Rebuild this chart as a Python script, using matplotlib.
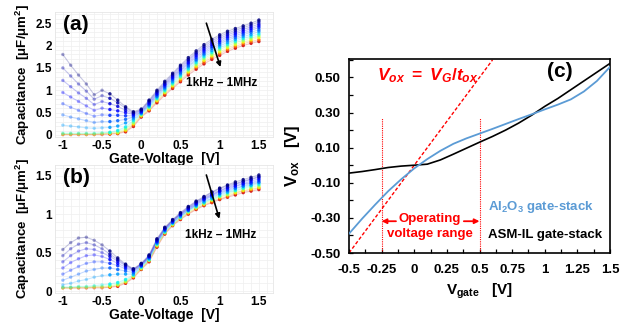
import matplotlib
matplotlib.use('Agg')
import matplotlib.pyplot as plt
import numpy as np

plt.rcParams['font.family'] = ['Liberation Sans', 'DejaVu Sans']
plt.rcParams['font.weight'] = 'bold'
plt.rcParams['axes.unicode_minus'] = False
plt.rcParams['mathtext.fontset'] = 'custom'
plt.rcParams['mathtext.rm'] = 'Liberation Sans:bold'
plt.rcParams['mathtext.bf'] = 'Liberation Sans:bold'
plt.rcParams['mathtext.it'] = 'Liberation Sans:italic:bold'
plt.rcParams['mathtext.default'] = 'rm'

# ---------------- data: panels (a) and (b) ----------------
gate_v = [-1.0, -0.9, -0.8, -0.7, -0.6, -0.5, -0.4, -0.3, -0.2, -0.1,
          0.0, 0.1, 0.2, 0.3, 0.4, 0.5, 0.6, 0.7, 0.8, 0.9,
          1.0, 1.1, 1.2, 1.3, 1.4, 1.5]

# capacitance curves, lowest frequency (1 kHz) first, highest (1 MHz) last
cap_a_f01 = [1.80,1.56,1.34,1.14,0.90,1.00,0.92,0.78,0.63,0.52,0.58,0.78,1.00,1.20,1.38,1.56,1.73,1.88,2.02,2.14,2.24,2.32,2.38,2.44,2.50,2.57]
cap_a_f02 = [1.50,1.32,1.14,0.98,0.80,0.88,0.82,0.72,0.60,0.50,0.56,0.76,0.97,1.17,1.35,1.53,1.69,1.84,1.98,2.10,2.20,2.28,2.34,2.40,2.46,2.53]
cap_a_f03 = [1.22,1.08,0.94,0.82,0.68,0.75,0.70,0.64,0.55,0.48,0.55,0.74,0.95,1.14,1.32,1.49,1.66,1.81,1.94,2.06,2.16,2.24,2.30,2.36,2.42,2.48]
cap_a_f04 = [0.95,0.85,0.75,0.65,0.55,0.60,0.57,0.54,0.50,0.46,0.53,0.71,0.92,1.12,1.29,1.46,1.62,1.77,1.90,2.02,2.11,2.20,2.26,2.32,2.38,2.44]
cap_a_f05 = [0.70,0.62,0.55,0.48,0.42,0.45,0.44,0.44,0.43,0.43,0.51,0.69,0.90,1.09,1.26,1.43,1.59,1.73,1.86,1.98,2.07,2.16,2.22,2.28,2.34,2.40]
cap_a_f06 = [0.45,0.40,0.36,0.32,0.28,0.30,0.30,0.32,0.35,0.40,0.50,0.67,0.87,1.06,1.23,1.39,1.55,1.69,1.82,1.94,2.03,2.12,2.18,2.24,2.30,2.35]
cap_a_f07 = [0.22,0.20,0.18,0.16,0.15,0.16,0.17,0.20,0.27,0.36,0.48,0.65,0.85,1.03,1.19,1.36,1.52,1.66,1.79,1.89,1.99,2.07,2.14,2.20,2.25,2.31]
cap_a_f08 = [0.04,0.04,0.04,0.04,0.04,0.05,0.06,0.10,0.18,0.32,0.47,0.63,0.82,1.00,1.16,1.32,1.48,1.62,1.75,1.85,1.95,2.03,2.10,2.16,2.21,2.26]
cap_a_f09 = [0.03,0.03,0.03,0.03,0.03,0.04,0.05,0.07,0.14,0.28,0.45,0.61,0.80,0.97,1.13,1.29,1.45,1.58,1.71,1.81,1.91,1.99,2.06,2.12,2.17,2.22]
cap_a_f10 = [0.02,0.02,0.02,0.02,0.02,0.03,0.04,0.05,0.11,0.25,0.43,0.58,0.77,0.95,1.10,1.26,1.41,1.54,1.67,1.77,1.86,1.95,2.02,2.08,2.13,2.18]
cap_a_f11 = [0.01,0.01,0.01,0.01,0.01,0.02,0.03,0.04,0.09,0.22,0.42,0.56,0.75,0.92,1.07,1.22,1.38,1.51,1.63,1.73,1.82,1.91,1.98,2.04,2.09,2.13]
cap_a_f12 = [0.01,0.01,0.01,0.01,0.01,0.01,0.02,0.03,0.07,0.19,0.40,0.54,0.72,0.89,1.04,1.19,1.34,1.47,1.59,1.69,1.78,1.87,1.94,2.00,2.05,2.09]

cap_b_f01 = [0.54,0.63,0.69,0.70,0.66,0.60,0.52,0.43,0.35,0.29,0.36,0.47,0.68,0.83,0.93,1.02,1.10,1.17,1.23,1.29,1.34,1.38,1.42,1.45,1.48,1.51]
cap_b_f02 = [0.46,0.55,0.61,0.63,0.60,0.55,0.48,0.41,0.34,0.28,0.35,0.46,0.67,0.82,0.92,1.01,1.09,1.16,1.22,1.28,1.33,1.37,1.40,1.43,1.46,1.49]
cap_b_f03 = [0.38,0.46,0.52,0.55,0.54,0.50,0.45,0.39,0.33,0.28,0.35,0.45,0.66,0.81,0.92,1.00,1.08,1.15,1.21,1.26,1.31,1.35,1.39,1.42,1.45,1.48]
cap_b_f04 = [0.30,0.37,0.42,0.46,0.47,0.45,0.41,0.36,0.31,0.27,0.34,0.45,0.65,0.81,0.91,1.00,1.07,1.14,1.20,1.25,1.30,1.34,1.37,1.40,1.43,1.46]
cap_b_f05 = [0.22,0.27,0.32,0.36,0.38,0.38,0.36,0.33,0.29,0.26,0.33,0.44,0.64,0.80,0.90,0.99,1.06,1.13,1.19,1.24,1.29,1.32,1.36,1.39,1.41,1.44]
cap_b_f06 = [0.14,0.18,0.22,0.26,0.28,0.30,0.30,0.28,0.26,0.24,0.33,0.43,0.63,0.79,0.89,0.98,1.05,1.12,1.18,1.23,1.27,1.31,1.34,1.37,1.40,1.42]
cap_b_f07 = [0.08,0.10,0.13,0.15,0.18,0.20,0.21,0.22,0.22,0.22,0.32,0.42,0.62,0.78,0.89,0.97,1.05,1.11,1.16,1.21,1.26,1.29,1.33,1.36,1.38,1.41]
cap_b_f08 = [0.05,0.05,0.06,0.06,0.07,0.08,0.09,0.11,0.15,0.21,0.31,0.41,0.61,0.77,0.88,0.96,1.04,1.10,1.15,1.20,1.24,1.28,1.31,1.34,1.37,1.39]
cap_b_f09 = [0.05,0.05,0.05,0.05,0.06,0.06,0.07,0.09,0.13,0.20,0.30,0.40,0.60,0.76,0.87,0.95,1.03,1.09,1.14,1.19,1.23,1.26,1.30,1.33,1.35,1.37]
cap_b_f10 = [0.04,0.04,0.05,0.05,0.05,0.05,0.06,0.08,0.12,0.19,0.29,0.40,0.59,0.76,0.86,0.95,1.02,1.08,1.13,1.18,1.22,1.25,1.28,1.31,1.33,1.35]
cap_b_f11 = [0.04,0.04,0.04,0.04,0.05,0.05,0.05,0.07,0.11,0.18,0.29,0.39,0.58,0.75,0.86,0.94,1.01,1.07,1.12,1.16,1.20,1.23,1.27,1.30,1.32,1.34]
cap_b_f12 = [0.04,0.04,0.04,0.04,0.04,0.04,0.05,0.06,0.10,0.17,0.28,0.38,0.57,0.74,0.85,0.93,1.00,1.06,1.11,1.15,1.19,1.22,1.25,1.28,1.30,1.32]

curves_a = [cap_a_f01, cap_a_f02, cap_a_f03, cap_a_f04, cap_a_f05, cap_a_f06,
            cap_a_f07, cap_a_f08, cap_a_f09, cap_a_f10, cap_a_f11, cap_a_f12]
curves_b = [cap_b_f01, cap_b_f02, cap_b_f03, cap_b_f04, cap_b_f05, cap_b_f06,
            cap_b_f07, cap_b_f08, cap_b_f09, cap_b_f10, cap_b_f11, cap_b_f12]

ticks_ab_x = [-1, -0.5, 0, 0.5, 1, 1.5]
ticklabels_ab_x = ['-1', '-0.5', '0', '0.5', '1', '1.5']
ticks_a_y = [0, 0.5, 1, 1.5, 2, 2.5]
ticklabels_a_y = ['0', '0.5', '1', '1.5', '2', '2.5']
ticks_b_y = [0, 0.5, 1, 1.5]
ticklabels_b_y = ['0', '0.5', '1', '1.5']

# ---------------- data: panel (c) ----------------
vgate = [-0.5, -0.4, -0.3, -0.2, -0.1, 0.0, 0.1, 0.2, 0.3, 0.4, 0.5,
         0.6, 0.7, 0.8, 0.9, 1.0, 1.1, 1.2, 1.3, 1.4, 1.5]
vox_al2o3 = [-0.390, -0.305, -0.225, -0.148, -0.080, -0.018, 0.035, 0.082, 0.122, 0.153, 0.180,
             0.207, 0.235, 0.263, 0.290, 0.318, 0.345, 0.375, 0.420, 0.480, 0.560]
vox_asmil = [-0.045, -0.036, -0.025, -0.013, -0.005, 0.000, 0.006, 0.030, 0.063, 0.097, 0.131,
             0.164, 0.200, 0.240, 0.285, 0.335, 0.380, 0.430, 0.480, 0.530, 0.580]
ideal_vg = [-0.5, 0.6]
ideal_vox = [-0.5, 0.6]
op_range = [-0.25, 0.5]

ticks_c_x = [-0.5, -0.25, 0, 0.25, 0.5, 0.75, 1, 1.25, 1.5]
ticklabels_c_x = ['-0.5', '-0.25', '0', '0.25', '0.5', '0.75', '1', '1.25', '1.5']
ticks_c_y = [-0.5, -0.3, -0.1, 0.1, 0.3, 0.5]
ticklabels_c_y = ['-0.50', '-0.30', '-0.10', '0.10', '0.30', '0.50']

# ---------------- figure ----------------
W, H = 638, 331
fig = plt.figure(figsize=(W / 100, H / 100), dpi=100)

def px_axes(l, t, r, b):
    return fig.add_axes([l / W, 1 - b / H, (r - l) / W, (b - t) / H])

cmap = plt.get_cmap('jet')
color_pos = [0.0, 0.04, 0.08, 0.12, 0.17, 0.22, 0.28, 0.36, 0.5, 0.64, 0.8, 0.93]
gv = np.asarray(gate_v)
point_alpha = np.where(gv < -0.45, 0.35, 0.85)

def cv_panel(ax, curves, ylim, yt, ytl, label, arrow_from, arrow_to, txt_xy):
    for k in range(len(curves) - 1, -1, -1):
        c = cmap(color_pos[k])
        ax.plot(gate_v, curves[k], '-', color=c, lw=0.8, alpha=0.22, zorder=2)
        ax.scatter(gate_v, curves[k], s=6, color=c, edgecolors='none',
                   alpha=point_alpha, zorder=3)
    ax.set_xlim(-1.1, 1.68)
    ax.set_ylim(*ylim)
    ax.set_xticks(ticks_ab_x)
    ax.set_xticklabels(ticklabels_ab_x)
    ax.set_yticks(yt)
    ax.set_yticklabels(ytl)
    ax.tick_params(length=0, labelsize=8.5, pad=2)
    for s in ax.spines.values():
        s.set_color('#e6e6e6')
        s.set_linewidth(0.6)
    ax.set_xticks(np.arange(-1.1, 1.7, 0.1), minor=True)
    ax.set_yticks(np.arange(0, ylim[1], 0.1), minor=True)
    ax.tick_params(which='minor', length=0)
    ax.grid(True, which='both', color='#efefef', lw=0.5, zorder=0)
    ax.set_axisbelow(True)
    ax.text(-0.83, yt[-1] - 0.01 * (ylim[1] - ylim[0]), label, fontsize=15, fontweight='bold',
            ha='center', va='center')
    ax.annotate('', xy=arrow_to, xytext=arrow_from,
                arrowprops=dict(arrowstyle='-|>', color='black', lw=1.2,
                                mutation_scale=7, shrinkA=0, shrinkB=0))
    ax.text(txt_xy[0], txt_xy[1], '1kHz – 1MHz', fontsize=8.5, fontweight='bold',
            ha='center', va='center')
    ax.set_xlabel('Gate-Voltage  [V]', fontsize=10, fontweight='bold', labelpad=0)
    ax.set_ylabel('Capacitance  [μF/μm$^2$]', fontsize=9.5, fontweight='bold', labelpad=3)
    for t in ax.get_xticklabels() + ax.get_yticklabels():
        t.set_fontweight('bold')

ax_a = px_axes(55, 12, 273, 137)
cv_panel(ax_a, curves_a, (-0.045, 2.75), ticks_a_y, ticklabels_a_y, '(a)',
         (0.83, 2.50), (1.01, 1.52), (1.02, 1.16))

ax_b = px_axes(55, 165, 273, 293)
cv_panel(ax_b, curves_b, (-0.026, 1.64), ticks_b_y, ticklabels_b_y, '(b)',
         (0.83, 1.51), (0.995, 0.94), (1.01, 0.73))

# ---------------- panel (c) ----------------
ax_c = px_axes(349, 59, 610, 253)
ax_c.set_xlim(-0.5, 1.5)
ax_c.set_ylim(-0.5, 0.605)
ax_c.plot(ideal_vg, ideal_vox, color='red', lw=1.0, ls=(0, (2.5, 1.5)), zorder=2)
for v in op_range:
    ax_c.plot([v, v], [-0.5, 0.27], color='red', lw=0.8, ls=(0, (1, 1)), zorder=2)
ax_c.plot(vgate, vox_asmil, color='black', lw=1.2, zorder=3)
ax_c.plot(vgate, vox_al2o3, color='#5b9bd5', lw=1.3, zorder=4)

ax_c.set_xticks(ticks_c_x)
ax_c.set_xticklabels(ticklabels_c_x)
ax_c.set_xticks(np.arange(-0.5, 1.51, 0.125), minor=True)
ax_c.set_yticks(ticks_c_y)
ax_c.set_yticklabels(ticklabels_c_y)
ax_c.set_yticks(np.arange(-0.5, 0.61, 0.1), minor=True)
ax_c.tick_params(which='both', direction='in', length=3, width=0.9, top=False, right=False)
ax_c.tick_params(axis='x', which='major', labelsize=9.5, pad=8)
ax_c.tick_params(axis='y', which='major', labelsize=9.5, pad=6)
for s in ax_c.spines.values():
    s.set_linewidth(1.2)
for t in ax_c.get_xticklabels() + ax_c.get_yticklabels():
    t.set_fontweight('bold')

ax_c.set_xlabel('V$_{gate}$   [V]', fontsize=11, fontweight='bold', labelpad=4)
ax_c.set_ylabel('V$_{ox}$   [V]', fontsize=12, fontweight='bold', labelpad=6)

ax_c.text(-0.285, 0.51, r'$\mathit{V_{ox}\ =\ V_G/t_{ox}}$', color='red', fontsize=12.5,
          ha='left', va='center')
ax_c.text(1.117, 0.533, '(c)', fontsize=15, fontweight='bold', ha='center', va='center')
ax_c.text(0.12, -0.307, 'Operating', color='red', fontsize=9.5, fontweight='bold',
          ha='center', va='center')
ax_c.text(0.12, -0.393, 'voltage range', color='red', fontsize=9.5, fontweight='bold',
          ha='center', va='center')
ax_c.annotate('', xy=(-0.25, -0.319), xytext=(-0.14, -0.319),
              arrowprops=dict(arrowstyle='-|>', color='red', lw=1.3, mutation_scale=7,
                              shrinkA=0, shrinkB=0))
ax_c.annotate('', xy=(0.5, -0.319), xytext=(0.38, -0.319),
              arrowprops=dict(arrowstyle='-|>', color='red', lw=1.3, mutation_scale=7,
                              shrinkA=0, shrinkB=0))
ax_c.text(0.565, -0.239, 'Al$_2$O$_3$ gate-stack', color='#5b9bd5', fontsize=9.5,
          fontweight='bold', ha='left', va='center')
ax_c.text(0.565, -0.399, 'ASM-IL gate-stack', color='black', fontsize=9.5,
          fontweight='bold', ha='left', va='center')

fig.savefig('out.png', dpi=100)
